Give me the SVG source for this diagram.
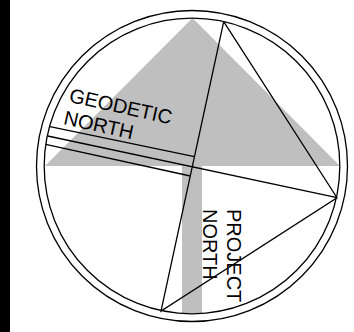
<svg xmlns="http://www.w3.org/2000/svg" width="354" height="332" viewBox="0 0 354 332">
<style>
.l{fill:none;stroke:#000;stroke-width:1.3}
.t{font-family:"Liberation Sans",Arial,sans-serif;font-size:20px;fill:#000}
</style>
<rect width="354" height="332" fill="#fff"/>
<rect x="0" y="0" width="10" height="332" fill="#000"/>
<g id="north-arrow"><polygon points="192.5,18 340,166 202,166 202,313 182,313 182,166 45,166" fill="#bfbfbf"/></g>
<g id="ring"><circle class="l" cx="192" cy="166" r="155.5"/><circle class="l" cx="192" cy="166" r="147.8"/></g>
<g id="connectors">
<path class="l" d="M223.7 21.7L161 311L337 197.7L223.7 21.7M47.7 136L337 197.7M50 126.7L194.4 156.7M45.7 144.3L190.3 176"/>
</g>
<g id="geodetic-north"><text class="t" transform="translate(68.3 101.7) rotate(12.5)">GEODETIC</text><text class="t" transform="translate(62.7 124) rotate(12.5)">NORTH</text></g>
<g id="project-north"><text class="t" transform="translate(227 209) rotate(90)">PROJECT</text><text class="t" transform="translate(203 209) rotate(90)">NORTH</text></g>
</svg>
